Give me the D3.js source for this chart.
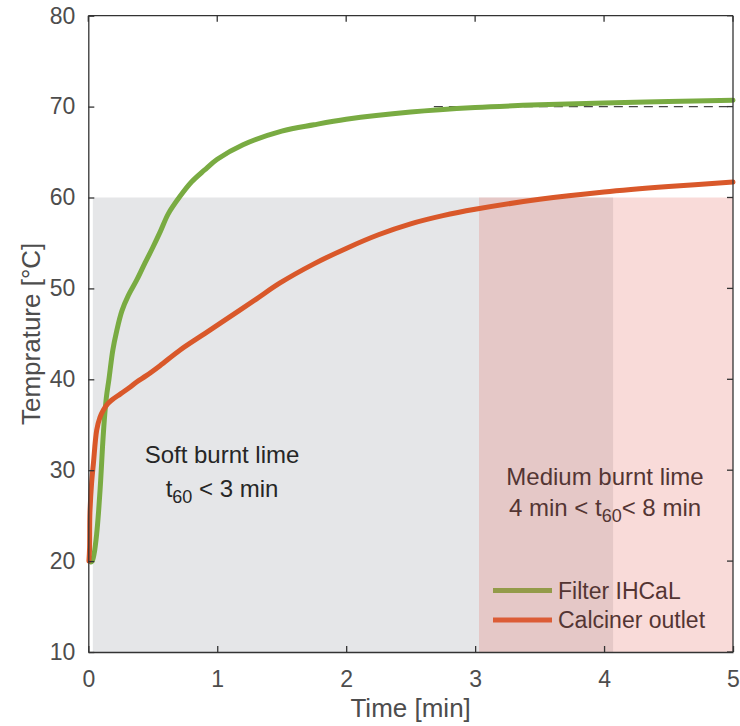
<!DOCTYPE html>
<html><head><meta charset="utf-8">
<script src="https://cdn.jsdelivr.net/npm/d3@7"></script>
<style>body{margin:0;background:#fff}svg{display:block}text{font-family:"Liberation Sans",Arial,sans-serif}</style>
</head><body><svg id="c" width="740" height="726"></svg>
<script>
const filterT = [0.01,0.02,0.03,0.045,0.065,0.08,0.096,0.11,0.124,0.14,0.16,0.19,0.22,0.26,0.31,0.375,0.44,0.5,0.56,0.62,0.71,0.8,0.9,1.0,1.2,1.5,1.75,2.0,2.5,3.0,3.5,4.0,4.5,5.0];
const filterV = [20.2,19.9,20.0,20.8,23.0,25.5,28.9,32.5,35.5,38.0,40.0,43.2,45.3,47.5,49.2,50.9,52.8,54.5,56.3,58.2,60.1,61.7,63.0,64.2,65.8,67.3,68.0,68.6,69.4,69.9,70.2,70.4,70.55,70.7];
const calcT = [0.005,0.01,0.013,0.025,0.04,0.065,0.09,0.116,0.15,0.18,0.25,0.32,0.375,0.45,0.556,0.71,0.9,1.1,1.3,1.487,1.75,2.0,2.25,2.5,2.75,3.0,3.5,4.0,4.5,5.0];
const calcV = [20.0,21.5,25.3,28.5,30.8,34.4,35.8,36.6,37.3,37.7,38.4,39.1,39.7,40.4,41.5,43.2,45.0,46.9,48.8,50.6,52.7,54.4,55.9,57.1,58.0,58.7,59.8,60.6,61.2,61.7];
const xTicks = [0,1,2,3,4,5];
const yTicks = [10,20,30,40,50,60,70,80];
const softRegion = [0.035, 4.07, 10, 60];
const mediumRegion = [3.03, 5, 10, 60];
const refLine = [2.68, 5, 70];
const seriesNames = ["Filter IHCaL","Calciner outlet"];
const colors = ["#79ab42","#d9582a"];

const svg = d3.select("#c");
const L=88.3, R=733, T=15.7, B=652;
const x = d3.scaleLinear().domain([0,5]).range([L,R]);
const y = d3.scaleLinear().domain([10,80]).range([B,T]);

svg.append("rect").attr("x",x(softRegion[0])).attr("width",x(softRegion[1])-x(softRegion[0]))
  .attr("y",y(softRegion[3])).attr("height",y(softRegion[2])-y(softRegion[3])).attr("fill","#e5e6e8");

const ann = svg.append("g").attr("fill","#262626").attr("font-size",24).attr("text-anchor","middle");
ann.append("text").attr("x",222).attr("y",463).text("Soft burnt lime");
const t1 = ann.append("text").attr("x",222).attr("y",497);
t1.append("tspan").text("t");
t1.append("tspan").attr("font-size",18).attr("dy",6).text("60");
t1.append("tspan").attr("dy",-6).text(" < 3 min");
ann.append("text").attr("x",605).attr("y",485).text("Medium burnt lime");
const t2 = ann.append("text").attr("x",605).attr("y",516);
t2.append("tspan").text("4 min < t");
t2.append("tspan").attr("font-size",18).attr("dy",6).text("60");
t2.append("tspan").attr("dy",-6).text("< 8 min");

const lg = svg.append("g");
seriesNames.forEach((n,i)=>{
  const yy = 590.5 + i*29.5;
  lg.append("line").attr("x1",493).attr("x2",552).attr("y1",yy).attr("y2",yy).attr("stroke",colors[i]).attr("stroke-width",5);
  lg.append("text").attr("x",558).attr("y",yy+8).attr("font-size",23).attr("fill","#262626").text(n);
});

svg.append("rect").attr("x",x(mediumRegion[0])).attr("width",x(mediumRegion[1])-x(mediumRegion[0]))
  .attr("y",y(mediumRegion[3])).attr("height",y(mediumRegion[2])-y(mediumRegion[3]))
  .attr("fill","rgb(230,105,97)").attr("fill-opacity",0.24);

svg.append("line").attr("x1",x(refLine[0])).attr("x2",x(refLine[1])).attr("y1",y(refLine[2])).attr("y2",y(refLine[2]))
  .attr("stroke","#444").attr("stroke-width",1.3).attr("stroke-dasharray","9,6");

const line = d3.line().curve(d3.curveCatmullRom.alpha(0.5)).x(d=>x(d[0])).y(d=>y(d[1]));
svg.append("path").datum(filterT.map((t,i)=>[t,filterV[i]])).attr("d",line).attr("fill","none")
  .attr("stroke",colors[0]).attr("stroke-width",5).attr("stroke-linejoin","round").attr("stroke-linecap","round");
svg.append("path").datum(calcT.map((t,i)=>[t,calcV[i]])).attr("d",line).attr("fill","none")
  .attr("stroke",colors[1]).attr("stroke-width",5).attr("stroke-linejoin","round").attr("stroke-linecap","round");

const axCol="#333";
const xa = svg.append("g").attr("transform",`translate(0,${B})`).call(d3.axisBottom(x).tickValues(xTicks).tickSizeInner(-6).tickSizeOuter(0).tickPadding(14).tickFormat(d3.format("d")));
const ya = svg.append("g").attr("transform",`translate(${L},0)`).call(d3.axisLeft(y).tickValues(yTicks).tickSizeInner(-6).tickSizeOuter(0).tickPadding(13).tickFormat(d3.format("d")));
[xa,ya].forEach(a=>{
  a.select(".domain").attr("stroke",axCol).attr("stroke-width",1.3);
  a.selectAll(".tick line").attr("stroke",axCol).attr("stroke-width",1.3);
  a.selectAll(".tick text").attr("fill","#4d4d4d").attr("font-size",23).attr("font-family","Liberation Sans, Arial, sans-serif");
});
xa.selectAll(".tick text").attr("dy","0.9em");
svg.append("line").attr("x1",L).attr("x2",R).attr("y1",T).attr("y2",T).attr("stroke",axCol).attr("stroke-width",1.3);
svg.append("line").attr("x1",R).attr("x2",R).attr("y1",T).attr("y2",B).attr("stroke",axCol).attr("stroke-width",1.3);
yTicks.forEach(v=>svg.append("line").attr("x1",R).attr("x2",R-6).attr("y1",y(v)).attr("y2",y(v)).attr("stroke",axCol).attr("stroke-width",1.3));
xTicks.forEach(v=>svg.append("line").attr("x1",x(v)).attr("x2",x(v)).attr("y1",T).attr("y2",T+6).attr("stroke",axCol).attr("stroke-width",1.3));

svg.append("text").attr("x",(L+R)/2).attr("y",717).attr("text-anchor","middle").attr("font-size",26).attr("fill","#4d4d4d").text("Time [min]");
svg.append("text").attr("transform",`translate(40,${(T+B)/2}) rotate(-90)`).attr("text-anchor","middle").attr("font-size",26).attr("fill","#4d4d4d").text("Temprature [°C]");
</script></body></html>
